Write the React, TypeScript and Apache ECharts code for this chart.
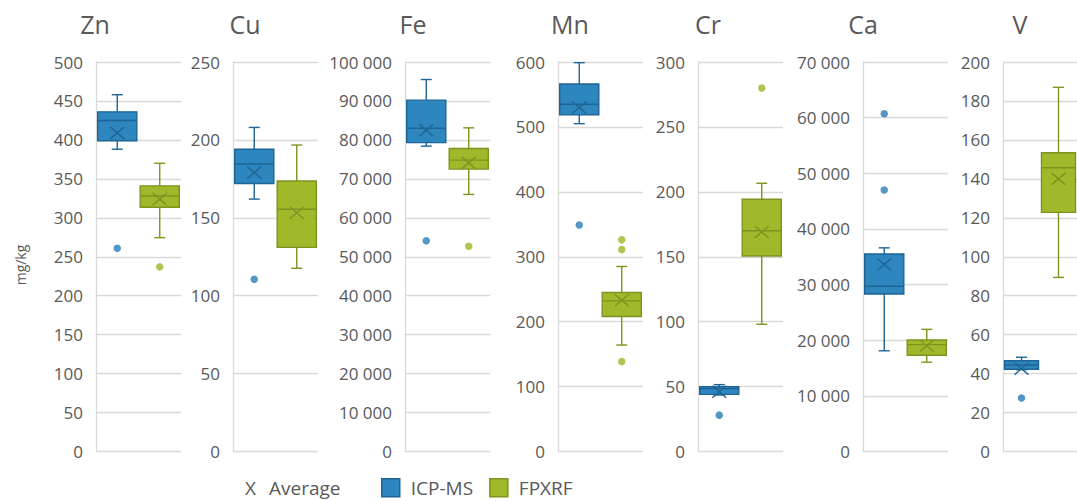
import React, { useEffect, useRef } from "react";
import * as echarts from "echarts";

const elements = ["Zn", "Cu", "Fe", "Mn", "Cr", "Ca", "V"];
const axisMax = [500, 250, 100000, 600, 300, 70000, 200];
const axisInterval = [50, 50, 10000, 100, 50, 10000, 20];
const methods = ["ICP-MS", "FPXRF"];

// [min, q1, median, q3, max, mean]
const icpStats = [
  [388, 399, 425, 436, 458, 409],
  [162, 172, 184.5, 194, 208, 179],
  [78400, 79300, 83000, 90200, 95500, 82500],
  [505, 518.5, 535, 566, 599, 530],
  [43.5, 44, 48.5, 50, 51.5, 46],
  [18100, 28300, 29700, 35500, 36600, 33600],
  [42, 42.2, 44.4, 46.6, 48.4, 42.5],
];
const fpxrfStats = [
  [274.5, 313.5, 328, 341, 370, 324],
  [117.6, 131, 155.5, 173.6, 196.7, 153.3],
  [66000, 72500, 74800, 77800, 83100, 74100],
  [164, 208, 232, 245, 285, 233],
  [98, 150.6, 170, 194.3, 206.6, 169],
  [16050, 17300, 19200, 20050, 21950, 19000],
  [89.4, 122.8, 145.7, 153.4, 187, 140],
];
const icpOutliers = [[261], [110.5], [54100], [349], [28], [60700, 47000], [27.5]];
const fpxrfOutliers = [[237], [], [52700], [326, 311, 138.5], [280], [], []];

// layout (pixels)
const gridLefts = [96, 233, 405, 558, 698, 863, 1003];
const titleCenters = [95, 245, 413, 570, 708, 863, 1020];
const GRID_TOP = 62;
const GRID_HEIGHT = 389.5;
const GRID_WIDTH = 85;

const FILL = ["#2E86BF", "#A0B92B"];
const DARK = ["#1E6494", "#7C9420"];
const TEXT = "#595959";
const FONT = "'Open Sans', 'Liberation Sans', sans-serif";

const fmt = (v: number) => String(v).replace(/\B(?=(\d{3})+(?!\d))/g, " ");

function txt(text: string, x: number, y: number, fontSize: number, align: string, rotation = 0) {
  return {
    type: "text",
    x,
    y,
    rotation,
    style: {
      text,
      fontSize,
      fontFamily: FONT,
      fill: TEXT,
      textAlign: align,
      textVerticalAlign: "middle",
      align,
      verticalAlign: "middle",
    },
  };
}

function buildOption() {
  const grid: any[] = [];
  const xAxis: any[] = [];
  const yAxis: any[] = [];
  const series: any[] = [];
  const graphic: any[] = [];

  elements.forEach((el, i) => {
    grid.push({ left: gridLefts[i], top: GRID_TOP, width: GRID_WIDTH, height: GRID_HEIGHT });
    xAxis.push({
      type: "category",
      gridIndex: i,
      data: methods,
      axisLine: { show: false },
      axisTick: { show: false },
      axisLabel: { show: false },
      splitLine: { show: false },
    });
    yAxis.push({
      type: "value",
      gridIndex: i,
      min: 0,
      max: axisMax[i],
      interval: axisInterval[i],
      axisLine: { show: true, lineStyle: { color: "#D9D9D9", width: 1.3 } },
      axisTick: { show: false },
      axisLabel: { color: TEXT, fontSize: 17, fontFamily: FONT, margin: 13, formatter: fmt },
      splitLine: { show: true, lineStyle: { color: "#D9D9D9", width: 1.3 } },
    });

    [icpStats, fpxrfStats].forEach((stats, m) => {
      series.push({
        type: "custom",
        name: methods[m],
        xAxisIndex: i,
        yAxisIndex: i,
        encode: { x: 0, y: [1, 2, 3, 4, 5, 6] },
        data: [[m, ...stats[i]]],
        itemStyle: { color: FILL[m] },
        renderItem: (params: any, api: any) => {
          const cat = api.value(0);
          const vals = [1, 2, 3, 4, 5, 6].map((k) => api.value(k));
          const p = vals.map((v) => api.coord([cat, v]));
          const cx = p[0][0];
          const bw = api.size([1, 0])[0] * 0.92;
          const cap = 5.5;
          const lw = 1.4;
          const st = { stroke: DARK[m], lineWidth: lw, fill: "none" };
          const yMin = p[0][1], yQ1 = p[1][1], yMed = p[2][1], yQ3 = p[3][1], yMax = p[4][1], yMean = p[5][1];
          return {
            type: "group",
            children: [
              { type: "line", shape: { x1: cx, y1: yMax, x2: cx, y2: yQ3 }, style: st },
              { type: "line", shape: { x1: cx, y1: yQ1, x2: cx, y2: yMin }, style: st },
              { type: "line", shape: { x1: cx - cap, y1: yMax, x2: cx + cap, y2: yMax }, style: st },
              { type: "line", shape: { x1: cx - cap, y1: yMin, x2: cx + cap, y2: yMin }, style: st },
              {
                type: "rect",
                shape: { x: cx - bw / 2, y: yQ3, width: bw, height: Math.max(yQ1 - yQ3, 1) },
                style: { fill: FILL[m], stroke: DARK[m], lineWidth: lw },
              },
              { type: "line", shape: { x1: cx - bw / 2, y1: yMed, x2: cx + bw / 2, y2: yMed }, style: st },
              { type: "line", shape: { x1: cx - 7, y1: yMean - 6, x2: cx + 7, y2: yMean + 6 }, style: st },
              { type: "line", shape: { x1: cx - 7, y1: yMean + 6, x2: cx + 7, y2: yMean - 6 }, style: st },
            ],
          };
        },
      });
    });

    [icpOutliers, fpxrfOutliers].forEach((outs, m) => {
      series.push({
        type: "scatter",
        name: methods[m],
        xAxisIndex: i,
        yAxisIndex: i,
        symbol: "circle",
        symbolSize: 7.5,
        itemStyle: { color: m === 0 ? "#2A7DB5" : "#9DB628" },
        data: outs[i].map((v) => [m, v]),
      });
    });

    graphic.push(txt(el, titleCenters[i], 24, 25, "center"));
  });

  graphic.push(txt("mg/kg", 20, 265, 14, "center", Math.PI / 2));
  graphic.push(txt("X", 245, 488, 19, "left"));
  graphic.push(txt("Average", 269, 488, 19, "left"));

  return {
    animation: false,
    backgroundColor: "#FFFFFF",
    grid,
    xAxis,
    yAxis,
    series,
    graphic,
    legend: {
      left: 381,
      top: 478,
      itemWidth: 18,
      itemHeight: 18,
      itemGap: 16,
      padding: 0,
      textStyle: { color: TEXT, fontSize: 19, lineHeight: 19, fontFamily: FONT, padding: [0, 0, 0, 6] },
      data: methods.map((name, m) => ({
        name,
        icon: "rect",
        itemStyle: { color: FILL[m], borderColor: DARK[m], borderWidth: 1.5 },
      })),
    },
  };
}

export default function App() {
  const ref = useRef<HTMLDivElement>(null);
  useEffect(() => {
    if (!ref.current) return;
    const chart = echarts.init(ref.current, undefined, { renderer: "svg" });
    chart.setOption(buildOption() as any);
    return () => chart.dispose();
  }, []);
  return (
    <div
      ref={ref}
      style={{ position: "fixed", left: 0, top: 0, width: 1077, height: 501, background: "#fff" }}
    />
  );
}
